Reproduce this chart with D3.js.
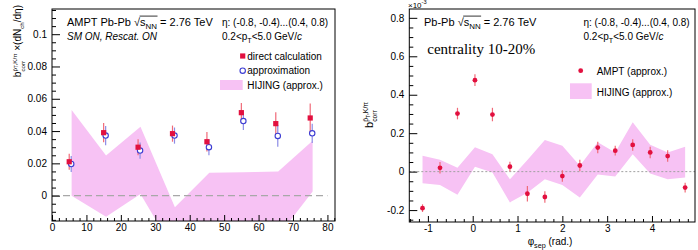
<!DOCTYPE html>
<html><head><meta charset="utf-8">
<script src="https://cdn.jsdelivr.net/npm/d3@7"></script>
<style>
body{margin:0;background:#fff}
svg{display:block}
text{font-family:"Liberation Sans",Arial,Helvetica,sans-serif;fill:#000}
</style>
</head><body>
<svg id="c" width="698" height="250"></svg>
<script>
// ---------- Left panel data ----------
const centrality = [5, 15, 25, 35, 45, 55, 65, 75];
const directVals = [0.0210, 0.0390, 0.0300, 0.0384, 0.0334, 0.0514, 0.0446, 0.0481];
const directErr  = [0.0050, 0.0060, 0.0050, 0.0050, 0.0060, 0.0060, 0.0070, 0.0090];
const approxVals = [0.0196, 0.0372, 0.0279, 0.0372, 0.0300, 0.0462, 0.0370, 0.0386];
const approxErr  = [0.0050, 0.0060, 0.0050, 0.0050, 0.0050, 0.0055, 0.0067, 0.0060];
const hijingLeftUpper = [0.0530, 0.0248, 0.0427, -0.0072, 0.0142, 0.0145, 0.0149, 0.0340];
const hijingLeftLower = [0.0000, -0.0130, 0.0010, -0.0350, -0.0300, -0.0270, -0.0250, 0.0025];
const leftXTicks = [0, 10, 20, 30, 40, 50, 60, 70, 80];
const leftYTicks = [0, 0.02, 0.04, 0.06, 0.08, 0.1];

// ---------- Right panel data (units of 1e-3) ----------
const phiSep = [-1.12, -0.73, -0.34, 0.05, 0.44, 0.83, 1.22, 1.61, 2.00, 2.39, 2.79, 3.18, 3.57, 3.96, 4.35, 4.74];
const amptVals = [-0.190, 0.020, 0.302, 0.476, 0.297, 0.026, -0.115, -0.132, -0.023, 0.032, 0.125, 0.109, 0.139, 0.100, 0.081, -0.083];
const amptErr  = [0.020, 0.030, 0.030, 0.030, 0.035, 0.025, 0.040, 0.030, 0.030, 0.030, 0.030, 0.025, 0.030, 0.030, 0.030, 0.025];
const hijingRightUpper = [0.083, 0.062, 0.020, 0.127, 0.090, -0.040, 0.060, 0.165, 0.135, 0.030, 0.153, 0.100, 0.257, 0.140, 0.100, 0.130];
const hijingRightLower = [-0.060, -0.070, -0.120, 0.025, -0.005, -0.160, -0.110, -0.040, -0.070, -0.135, -0.015, -0.025, 0.090, -0.010, -0.040, -0.030];
const rightXTicks = [-1, 0, 1, 2, 3, 4];
const rightYTicks = [-0.2, 0, 0.2, 0.4, 0.6, 0.8];

// ---------- styles ----------
const RED = "#e2103f", RED_ERR = "#f06a78", BLUE = "#3c3cd2", BLUE_ERR = "#8c8ce6", PINK = "#f7c2f4";

const svg = d3.select("#c");
const defs = svg.append("defs");

function rich(parent, x, y, parts, size, opts = {}) {
  const t = parent.append("text").attr("x", x).attr("y", y).attr("font-size", size);
  if (opts.family) t.style("font-family", opts.family);
  if (opts.anchor) t.attr("text-anchor", opts.anchor);
  if (opts.italic) t.attr("font-style", "italic");
  let shift = 0, idx = 0; const marks = {};
  parts.forEach(p => {
    if (typeof p === "string") p = {t: p};
    const target = p.sub ? size * 0.3 : p.sup ? -size * 0.45 : 0;
    const s = t.append("tspan").text(p.t);
    if (target !== shift) { s.attr("dy", target - shift); shift = target; }
    if (p.sub || p.sup) s.attr("font-size", size * 0.72);
    if (p.italic) s.attr("font-style", "italic");
    if (p.mark) marks[p.mark] = [idx, idx + p.t.length - 1];
    idx += p.t.length;
  });
  return {t, marks};
}

function sqrtText(parent, x, y, prefix, size) {
  const r = rich(parent, x, y, [prefix, {t: "√", mark: "root"}, {t: "s", mark: "s"}, {t: "NN", sub: true, mark: "nn"}, " = 2.76 TeV"], size);
  const node = r.t.node();
  const x0 = node.getEndPositionOfChar(r.marks.root[1]).x - 0.5;
  const x1 = node.getEndPositionOfChar(r.marks.nn[1]).x + 0.5;
  parent.append("line").attr("x1", x0).attr("x2", x1)
    .attr("y1", y - size * 0.9).attr("y2", y - size * 0.9)
    .attr("stroke", "#000").attr("stroke-width", 0.8);
}

function bLabel(parent, withDn, size) {
  const t = parent.append("text").attr("font-size", size);
  t.append("tspan").text("b");
  const s1 = t.append("tspan").attr("dy", -size * 0.45).attr("font-size", size * 0.62).text("p̄");
  const s2 = t.append("tspan").attr("dy", size * 0.15).attr("font-size", size * 0.45).text("T");
  const s3 = t.append("tspan").attr("dy", -size * 0.15).attr("font-size", size * 0.62).text(",K/π");
  const supW = s1.node().getComputedTextLength() + s2.node().getComputedTextLength() + s3.node().getComputedTextLength();
  const sub = t.append("tspan").attr("dx", -supW).attr("dy", size * 0.8).attr("font-size", size * 0.62).text("corr");
  const subW = sub.node().getComputedTextLength();
  if (withDn) {
    t.append("tspan").attr("dx", Math.max(0, supW - subW)).attr("dy", -size * 0.35).text(" ×(dN");
    t.append("tspan").attr("dy", size * 0.3).attr("font-size", size * 0.62).text("ch");
    t.append("tspan").attr("dy", -size * 0.3).text("/dη)");
  }
  return t;
}

function frameAxes(g, x, y, xt, yt, xMinor, yMinor, xFmt, yFmt, xMaj, yMaj) {
  const [x0, x1] = x.range(), [y0, y1] = y.range();
  const ax = g.append("g").attr("transform", `translate(0,${y0})`)
    .call(d3.axisBottom(x).tickValues(xt).tickFormat(xFmt).tickSize(-xMaj).tickSizeOuter(0).tickPadding(3));
  const axm = g.append("g").attr("transform", `translate(0,${y0})`)
    .call(d3.axisBottom(x).tickValues(xMinor).tickFormat("").tickSize(-xMaj / 2).tickSizeOuter(0));
  const ay = g.append("g").attr("transform", `translate(${x0},0)`)
    .call(d3.axisLeft(y).tickValues(yt).tickFormat(yFmt).tickSize(-yMaj).tickSizeOuter(0).tickPadding(5));
  const aym = g.append("g").attr("transform", `translate(${x0},0)`)
    .call(d3.axisLeft(y).tickValues(yMinor).tickFormat("").tickSize(-yMaj / 2).tickSizeOuter(0));
  [ax, axm, ay, aym].forEach(a => {
    a.select(".domain").remove();
    a.attr("font-family", null).attr("font-size", 10);
    a.selectAll("line").attr("stroke", "#000").attr("stroke-width", 1);
  });
  ax.selectAll("text").attr("dy", "0.72em");
  g.append("rect").attr("x", x0).attr("y", y1).attr("width", x1 - x0).attr("height", y0 - y1)
    .attr("fill", "none").attr("stroke", "#000").attr("stroke-width", 1);
}

// ================= LEFT PANEL =================
const xL = d3.scaleLinear().domain([0, 82.2]).range([52, 335]);
const yL = d3.scaleLinear().domain([-0.0157, 0.1156]).range([221, 9]);
const gL = svg.append("g");
defs.append("clipPath").attr("id", "clipL").append("rect")
  .attr("x", 52).attr("y", 9).attr("width", 283).attr("height", 212);

const bandL = centrality.map((c, i) => ({c, u: hijingLeftUpper[i], l: hijingLeftLower[i]}));
gL.append("path").attr("clip-path", "url(#clipL)")
  .attr("d", d3.area().x(d => xL(d.c + 0.7)).y0(d => yL(d.l)).y1(d => yL(d.u))(bandL))
  .attr("fill", PINK);
gL.append("line").attr("x1", xL(0)).attr("x2", xL(80)).attr("y1", yL(0)).attr("y2", yL(0))
  .attr("stroke", "#a8a8a8").attr("stroke-width", 1.2).attr("stroke-dasharray", "7,4");

// error bars
gL.selectAll(".eb").data(centrality).enter().append("line")
  .attr("x1", (c) => xL(c) + 2).attr("x2", (c) => xL(c) + 2)
  .attr("y1", (c, i) => yL(approxVals[i] - approxErr[i])).attr("y2", (c, i) => yL(approxVals[i] + approxErr[i]))
  .attr("stroke", BLUE_ERR).attr("stroke-width", 1.2);
gL.selectAll(".er").data(centrality).enter().append("line")
  .attr("x1", (c) => xL(c)).attr("x2", (c) => xL(c))
  .attr("y1", (c, i) => yL(directVals[i] - directErr[i])).attr("y2", (c, i) => yL(directVals[i] + directErr[i]))
  .attr("stroke", RED_ERR).attr("stroke-width", 1.2);
gL.selectAll(".ob").data(centrality).enter().append("circle")
  .attr("cx", (c) => xL(c) + 2).attr("cy", (c, i) => yL(approxVals[i])).attr("r", 2.7)
  .attr("fill", "#fff").attr("stroke", BLUE).attr("stroke-width", 1.1);
gL.selectAll(".sq").data(centrality).enter().append("rect")
  .attr("x", (c) => xL(c) - 2.6).attr("y", (c, i) => yL(directVals[i]) - 2.6).attr("width", 5.2).attr("height", 5.2)
  .attr("fill", RED);

frameAxes(gL, xL, yL, leftXTicks, leftYTicks,
  d3.range(0, 82.1, 2).filter(v => v % 10 !== 0),
  d3.range(-15, 116, 5).map(v => v / 1000).filter(v => Math.round(v * 1000) % 20 !== 0),
  d => String(d), d => d === 0 ? "0" : d3.format(".2~f")(d), 6, 8);

// y-axis title (rotated)
const ylabL = gL.append("g").attr("transform", "translate(21,5) rotate(-90)");
bLabel(ylabL, true, 10).attr("text-anchor", "end");

// texts
sqrtText(gL, 67, 26, "AMPT Pb-Pb ", 11);
rich(gL, 67, 40, ["SM ON, Rescat. ON"], 10, {italic: true});
rich(gL, 222, 25.5, ["η: (-0.8, -0.4)...(0.4, 0.8)"], 10);
rich(gL, 222, 39.5, ["0.2<p", {t: "T", sub: true}, "<5.0 GeV/", {t: "c", italic: true}], 10);

// legend
gL.append("rect").attr("x", 242.7 - 2.6).attr("y", 56 - 2.6).attr("width", 5.2).attr("height", 5.2).attr("fill", RED);
gL.append("circle").attr("cx", 242.7).attr("cy", 70.7).attr("r", 2.7).attr("fill", "#fff").attr("stroke", BLUE).attr("stroke-width", 1.1);
gL.append("rect").attr("x", 220).attr("y", 80).attr("width", 22.7).attr("height", 10).attr("fill", PINK);
rich(gL, 247.3, 59.8, ["direct calculation"], 10);
rich(gL, 247.3, 74.2, ["approximation"], 10);
rich(gL, 247.3, 89, ["HIJING (approx.)"], 10);

// ================= RIGHT PANEL =================
const xR = d3.scaleLinear().domain([-1.415, 4.96]).range([409.3, 695]);
const yR = d3.scaleLinear().domain([-0.262, 0.846]).range([222, 9]);
const gR = svg.append("g");
defs.append("clipPath").attr("id", "clipR").append("rect")
  .attr("x", 409.3).attr("y", 9).attr("width", 285.7).attr("height", 213);

const bandR = phiSep.map((p, i) => ({p, u: hijingRightUpper[i], l: hijingRightLower[i]}));
gR.append("path").attr("clip-path", "url(#clipR)")
  .attr("d", d3.area().x(d => xR(d.p)).y0(d => yR(d.l)).y1(d => yR(d.u))(bandR))
  .attr("fill", PINK);
gR.append("line").attr("x1", 409.3).attr("x2", 695).attr("y1", yR(0)).attr("y2", yR(0))
  .attr("stroke", "#a0a0a0").attr("stroke-width", 1).attr("stroke-dasharray", "2,2");

gR.selectAll(".er").data(phiSep).enter().append("line")
  .attr("x1", d => xR(d)).attr("x2", d => xR(d))
  .attr("y1", (d, i) => yR(amptVals[i] - amptErr[i])).attr("y2", (d, i) => yR(amptVals[i] + amptErr[i]))
  .attr("stroke", RED_ERR).attr("stroke-width", 1.2);
gR.selectAll(".pt").data(phiSep).enter().append("circle")
  .attr("cx", d => xR(d)).attr("cy", (d, i) => yR(amptVals[i])).attr("r", 2.4).attr("fill", RED);

frameAxes(gR, xR, yR, rightXTicks, rightYTicks,
  d3.range(-14, 50, 2).map(v => v / 10).filter(v => Math.abs(v - Math.round(v)) > 1e-6),
  d3.range(-25, 85, 5).map(v => v / 100).filter(v => Math.abs(v * 5 - Math.round(v * 5)) > 1e-6),
  d => String(d), d => d === 0 ? "0" : d.toFixed(1), 6, 8);

// ×10^-3
rich(gR, 408, 8, ["×10", {t: "-3", sup: true}], 8);

// y title
const ylabR = gR.append("g").attr("transform", "translate(373,115) rotate(-90)");
bLabel(ylabR, false, 11).attr("text-anchor", "middle");

// x title
rich(gR, 550, 244.5, ["φ", {t: "sep", sub: true}, " (rad.)"], 10, {anchor: "middle"});

// texts
sqrtText(gR, 424, 26, "Pb-Pb ", 11);
rich(gR, 583.5, 26, ["η: (-0.8, -0.4)...(0.4, 0.8)"], 10);
rich(gR, 583.5, 39.5, ["0.2<p", {t: "T", sub: true}, "<5.0 GeV/", {t: "c", italic: true}], 10);
rich(gR, 427.3, 54, ["centrality 10-20%"], 15, {family: "'Liberation Serif','Times New Roman',serif"});

// legend
gR.append("circle").attr("cx", 580.7).attr("cy", 70.7).attr("r", 2.4).attr("fill", RED);
gR.append("rect").attr("x", 570).attr("y", 83.3).attr("width", 21.7).attr("height", 15.7).attr("fill", PINK);
rich(gR, 596.7, 75, ["AMPT (approx.)"], 10);
rich(gR, 596.7, 96, ["HIJING (approx.)"], 10);
</script>
</body></html>
